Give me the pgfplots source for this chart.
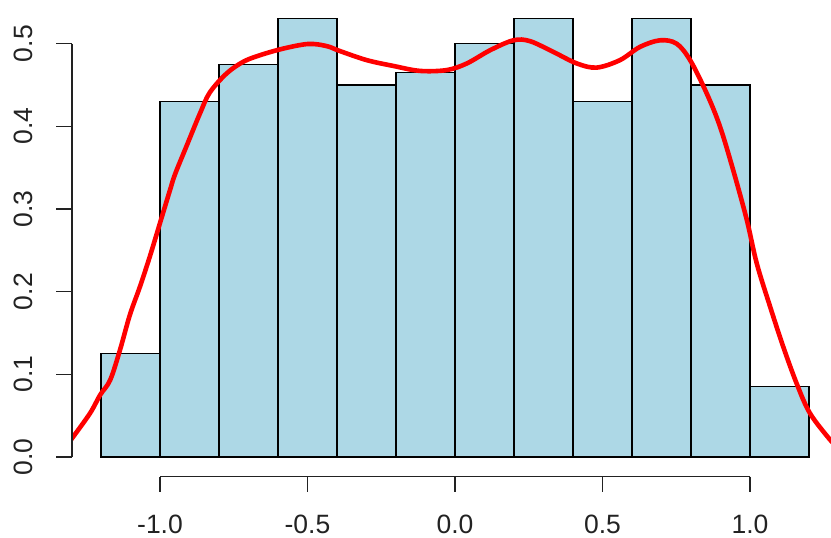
\documentclass[border=0pt]{standalone}
\usepackage{pgfplots}
\pgfplotsset{compat=1.18}
\usepackage{fontspec}
\setmainfont{Liberation Sans}
\definecolor{lblue}{HTML}{ADD8E6}
\definecolor{axgray}{HTML}{222222}
\tikzset{tl/.style={font=\fontsize{26.5bp}{30bp}\selectfont, text=axgray, inner sep=0pt}}
\begin{document}
\begin{tikzpicture}
\begin{axis}[
  scale only axis,
  width=758.9bp, height=473.2bp,
  xmin=-1.298, xmax=1.2746,
  ymin=-0.0212, ymax=0.5512,
  axis line style={draw=none},
  xtick=\empty, ytick=\empty,
  clip mode=individual,
]
\addplot[ybar interval, fill=lblue, draw=black, line width=1.1bp] coordinates {
(-1.2,0.125) (-1.0,0.43) (-0.8,0.475) (-0.6,0.53) (-0.4,0.45) (-0.2,0.465)
(0.0,0.5) (0.2,0.53) (0.4,0.43) (0.6,0.53) (0.8,0.45) (1.0,0.085) (1.2,0.085)
};
\addplot[red, line width=4.6bp, smooth, tension=0.55, line join=round] coordinates {
(-1.31,0.017) (-1.298,0.0226) (-1.237,0.053) (-1.203,0.075) (-1.169,0.093)
(-1.136,0.129) (-1.102,0.172) (-1.068,0.206) (-1.034,0.243) (-1.000,0.283)
(-0.966,0.323) (-0.949,0.342) (-0.909,0.377) (-0.864,0.416) (-0.831,0.441)
(-0.774,0.464) (-0.718,0.478) (-0.661,0.486) (-0.582,0.494) (-0.497,0.4996)
(-0.435,0.497) (-0.390,0.491) (-0.299,0.480) (-0.209,0.473) (-0.119,0.467)
(-0.028,0.468) (0.040,0.476) (0.119,0.492) (0.198,0.504) (0.254,0.503)
(0.333,0.490) (0.413,0.476) (0.480,0.471) (0.559,0.480) (0.627,0.496)
(0.695,0.504) (0.751,0.500) (0.797,0.480) (0.853,0.440) (0.898,0.400)
(0.943,0.347) (0.989,0.287) (1.023,0.234) (1.068,0.182) (1.113,0.133)
(1.158,0.089) (1.203,0.053) (1.271,0.021) (1.29,0.015)
};
% R-style axes
\draw[axgray, line width=1.3bp] (axis cs:-1,-0.0238) -- (axis cs:1,-0.0238);
\pgfplotsinvokeforeach{-1,-0.5,0,0.5,1}{
  \draw[axgray, line width=1.3bp] (axis cs:#1,-0.0238) -- (axis cs:#1,-0.0419);
}
\node[tl, anchor=base] at (axis cs:-1,-0.0931) {-1.0};
\node[tl, anchor=base] at (axis cs:-0.5,-0.0931) {-0.5};
\node[tl, anchor=base] at (axis cs:0,-0.0931) {0.0};
\node[tl, anchor=base] at (axis cs:0.5,-0.0931) {0.5};
\node[tl, anchor=base] at (axis cs:1,-0.0931) {1.0};
\draw[axgray, line width=1.3bp] (axis cs:-1.298,0) -- (axis cs:-1.298,0.5);
\pgfplotsinvokeforeach{0,0.1,0.2,0.3,0.4,0.5}{
  \draw[axgray, line width=1.3bp] (axis cs:-1.298,#1) -- (axis cs:-1.3522,#1);
}
\node[tl, rotate=90, anchor=center] at (axis cs:-1.4644,0) {0.0};
\node[tl, rotate=90, anchor=center] at (axis cs:-1.4644,0.1) {0.1};
\node[tl, rotate=90, anchor=center] at (axis cs:-1.4644,0.2) {0.2};
\node[tl, rotate=90, anchor=center] at (axis cs:-1.4644,0.3) {0.3};
\node[tl, rotate=90, anchor=center] at (axis cs:-1.4644,0.4) {0.4};
\node[tl, rotate=90, anchor=center] at (axis cs:-1.4644,0.5) {0.5};
\coordinate (ll) at (rel axis cs:0,0);
\end{axis}
\pgfresetboundingbox
\useasboundingbox (ll) ++(-72.1bp,-63.5bp) rectangle ++(831bp,538bp);
\end{tikzpicture}
\end{document}
